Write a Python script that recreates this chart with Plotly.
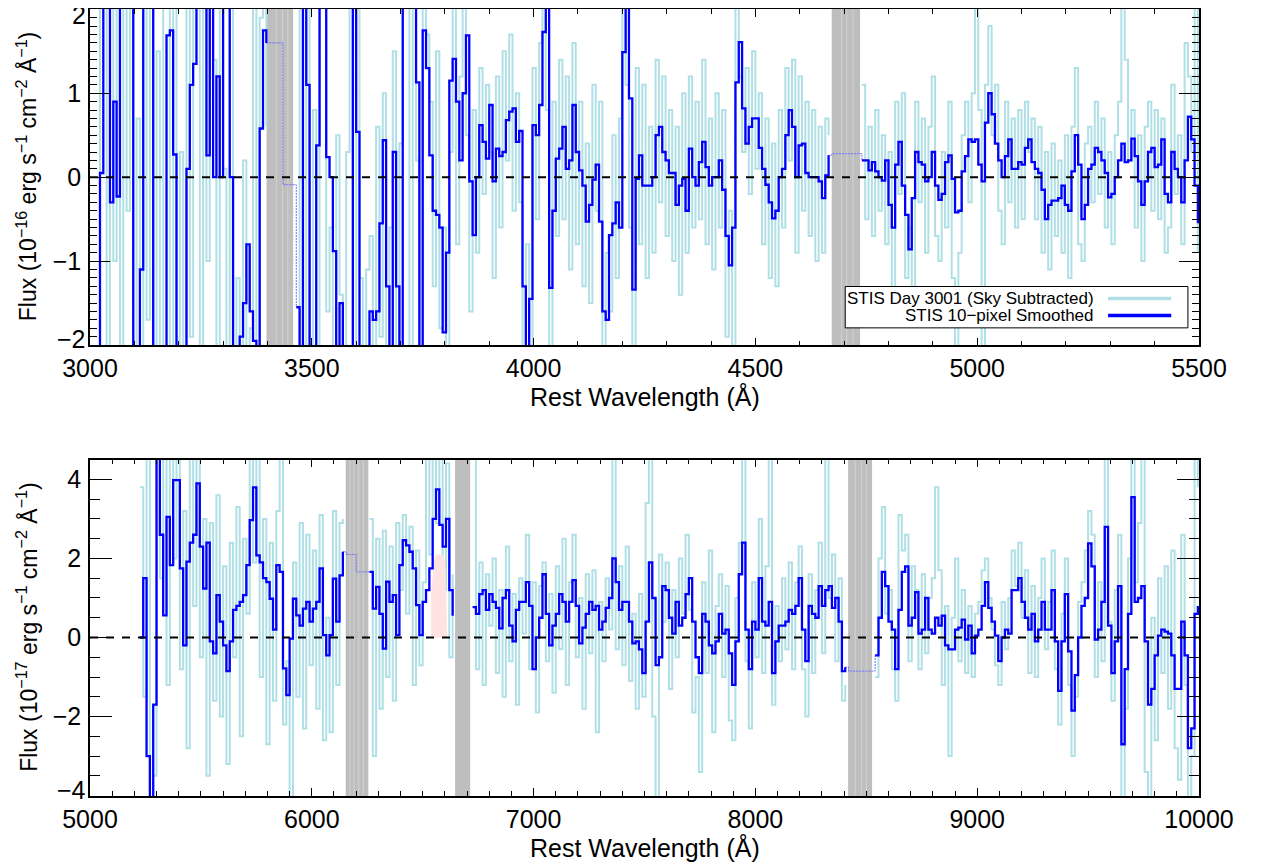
import numpy as np
import plotly.graph_objects as go

# ---------------- data ----------------
top_start, top_step = 3015.0, 7.5
top_smooth = [
    -3, 0.05, 3, 3, -0.3, 0.9, -0.23, 3, 3, 3,
    3, -3, -3, -1.1, 3, 3, 3, -3, -3, -3,
    -3, 1.69, 1.75, 0.27, -3, -3, -3, 0.1, 1.1, 1.35,
    3, 3, 3, 0.26, 3, 0.0, 1.2, 0.0, 3, 3,
    0.0, -3, -3, -1.9, -1.5, -0.8, -1.6, -1.95, -3, 0.58,
    1.75, 1.6, 1.6, 1.6, 1.6, 1.6, -0.09, -0.09, -0.09, -0.09,
    -1.55, -3, 3, 1.1, -3, -3, 0.38, 3, 3, 0.24,
    0.0, -0.88, -3, -1.5, -3, -3, -3, 3, 0.54, -3,
    -3, -3, -1.6, -1.7, -1.6, -0.55, 0.44, -1.3, -3, 0.3,
    -1.3, -3, 3, 3, 3, 3, 1.13, -3, 1.75, 1.3,
    0.26, -0.4, -0.45, -0.6, -1.85, -0.9, 1.15, 1.41, 0.9, 0.2,
    1.0, 1.69, -0.05, -0.69, 0.0, 0.62, 0.42, 0.22, 0.86, -0.05,
    0.34, 0.25, 0.3, 0.68, 0.78, 0.82, 0.42, 0.55, -1.3, -2.3,
    -1.45, 0.62, 0.5, 0.86, 1.73, 2.5, -1.32, -0.4, 0.22, 0.34,
    0.6, 0.1, 0.2, 0.86, 0.3, 0.08, -0.1, -0.53, -0.33, -0.03,
    0.15, -0.53, -1.6, -1.7, -0.69, -0.55, -0.3, -0.6, 1.49, 2.5,
    0.94, -1.34, -0.02, 0.26, -0.1, -0.1, -0.1, 0.0, 0.5, 0.6,
    0.3, 0.2, 0.05, 0.05, -0.33, -0.1, -0.02, -0.4, 0.34, 0.0,
    -0.1, 0.18, 0.42, 0.12, -0.1, 0.0, 0.0, 0.2, -0.15, -0.7,
    -1.05, -0.6, 1.13, 1.61, 0.82, 0.4, 0.6, 0.7, 0.7, 0.35,
    0.1, -0.09, -0.3, -0.49, -0.4, 0.0, 0.1, 0.5, 0.8, 0.6,
    0.0, 0.38, 0.4, 0.05, 0.0, 0.0, 0.0, -0.05, -0.25, 0.02,
    0.26, 0.28, 0.28, 0.28, 0.28, 0.28, 0.28, 0.28, 0.28, 0.28,
    0.2, 0.2, 0.08, 0.18, 0.07, 0.0, -0.04, 0.2, -0.33, -0.6,
    0.15, 0.42, -0.1, -0.45, -0.86, -0.25, 0.3, 0.18, 0.15, -0.05,
    0.0, 0.3, -0.1, -0.27, -0.2, 0.18, 0.26, -0.02, -0.42, -0.4,
    0.07, 0.25, 0.45, 0.42, 0.45, 0.15, -0.05, 0.65, 1.0, 0.75,
    0.4, 0.2, 0.0, 0.25, 0.45, 0.1, 0.1, 0.18, 0.15, 0.35,
    0.45, 0.18, 0.1, 0.05, -0.15, -0.5, -0.33, -0.28, -0.28, -0.25,
    -0.1, -0.33, -0.4, 0.07, 0.5, 0.15, -0.5, -0.33, 0.1, 0.15,
    0.35, 0.3, 0.2, 0.05, -0.24, -0.2, 0.0, 0.2, 0.4, 0.18,
    0.2, 0.46, 0.25, -0.05, -0.33, -0.05, 0.3, 0.35, 0.12, 0.15,
    0.45, -0.2, -0.3, 0.3, 0.1, 0.0, -0.3, 0.2, 0.72, 0.45,
    -0.1, -0.55,
]
N = None
top_raw = [
    -3, 3, 2.5, -3, 3, -1.0, 3, -3, 3, -0.4,
    3, -3, 0.7, -3, 3, -1.7, 3, -3, 1.5, -3,
    3, 2.2, -3, 3, -3, 0.3, -3, 3, -1.9, 3,
    3, -2.5, 3, -1.0, 3, 1.4, -3, 3, 0.1, -3,
    3, -3, -1.2, -3, 0.2, -3, -1.8, 3, -3, 1.9,
    3, 0.6, N, N, N, N, N, N, N, N,
    -3, 3, -3, 3, -2.0, 0.8, -3, 3, 2.2, -1.6,
    -0.6, -2.4, 0.5, -1.4, -3, 0.3, 3, -3, 3, -1.2,
    -2.5, -1.1, -0.7, -2.2, 0.6, -1.9, 1.0, -3, -0.6, 1.5,
    -2.3, 0.4, 3, 2.6, -3, 3, 0.2, -3, 3, 1.7,
    0.9, -1.3, 1.5, -1.8, -0.6, -2.4, 0.3, 2.4, -0.8, 1.2,
    2.4, 0.5, -1.6, 0.8, -0.9, 1.3, -0.2, 1.1, 0.3, -1.2,
    1.2, -0.6, 1.5, 0.2, 1.7, -0.4, 1.0, -0.3, -2.4, -0.8,
    -2.2, 1.3, -0.5, 1.6, 2.4, 0.8, -2.3, 0.9, -0.7, 1.4,
    -0.5, 1.2, -1.1, 1.6, -0.8, 0.9, -1.3, 0.4, -1.5, 1.1,
    -0.4, 0.9, -2.3, -0.9, -1.6, 0.5, -1.2, 0.7, 2.3, 1.1,
    -0.6, -2.3, 1.3, -0.8, 1.1, -1.2, 0.6, -0.9, 1.4, -0.3,
    1.2, -0.7, 0.8, -1.0, 0.6, -1.4, 1.0, -0.9, 1.2, -0.6,
    0.9, -0.5, 1.4, -0.8, 0.7, -1.1, 1.0, -0.6, 0.8, -1.9,
    -0.4, -2.3, 2.4, 1.2, 0.3, 1.3, -0.2, 1.5, 0.1, 1.0,
    -0.8, 0.7, -1.2, 0.4, -1.3, 0.8, -0.6, 1.3, 0.2, 1.4,
    -0.9, 1.2, -0.4, 0.9, -0.7, 0.8, -1.0, 0.6, -0.9, 0.7,
    0.5, N, N, N, N, N, N, N, N, N,
    1.1, -0.5, 0.6, -0.7, 0.8, -0.4, 0.5, -0.8, 0.3, -1.6,
    0.9, -0.2, 1.0, -1.2, -0.6, -1.5, 0.9, -0.3, 0.7, -0.9,
    0.6, 1.2, -0.7, -1.0, 0.3, -0.6, 0.9, -1.2, -2.2, -0.9,
    0.5, 0.9, -0.3, 1.0, 2.1, 0.8, -2.1, 1.1, 1.8, 0.5,
    1.1, -0.4, -0.8, 0.9, -0.3, 0.7, -0.6, 0.8, -0.5, 0.9,
    0.3, 0.7, -0.5, 0.6, -0.9, 0.3, -1.1, 0.4, -0.7, 0.2,
    -0.9, 0.5, -1.2, 0.6, 1.3, -0.8, -1.0, 0.4, 0.6, -0.3,
    0.9, -0.2, 0.7, -0.6, 0.3, -0.8, 0.5, 0.9, 2.1, 1.4,
    0.2, 0.8, -0.6, 0.5, -1.0, 0.6, 0.9, -0.4, 0.8, -0.5,
    0.7, -0.9, -0.6, 1.1, -0.2, 0.5, -0.8, 1.6, 1.2, 0.3,
    2.1, -0.9,
]

bot_start, bot_step = 5225.0, 15.0
bot_smooth = [
    0.0, 1.5, -3.0, -5, -1.7, 5, 2.6, 0.56, 3.05, 1.83,
    3.98, 3.98, 1.75, -0.2, 1.92, 2.4, 2.6, 3.9, 2.3, 1.24,
    2.4, -0.1, -0.4, 1.07, 0.4, -0.2, -0.85, -0.1, 0.7, 0.8,
    0.9, 1.07, 1.83, 2.97, 3.8, 2.08, 1.9, 1.5, 1.4, 0.98,
    0.2, 1.83, 1.66, -0.78, -1.46, -0.03, 0.98, 0.56, 0.3, 0.73,
    0.9, 0.4, 0.73, 0.9, 1.75, 0.06, -0.45, 0.06, 1.49, 0.4,
    1.57, 2.17, 2.1, 2.1, 2.1, 1.66, 1.66, 1.66, 1.66, 1.66,
    0.73, 1.28, 0.6, -0.28, 1.41, 0.9, 1.07, 0.06, 1.83, 2.46,
    2.33, 2.17, 1.75, 0.82, 0.06, 0.9, 1.2, 1.75, 3.0, 3.75,
    2.85, 2.3, 3.0, 1.2, 0.55, N, N, N, N, N,
    0.77, 0.6, 1.1, 1.2, 0.7, 1.1, 0.9, 0.75, 0.23, 1.0,
    1.2, 0.3, -0.1, 0.7, 0.9, 0.9, 1.4, 0.8, -0.8, 0.0,
    0.5, 1.6, 0.6, -0.2, 0.3, 0.6, 1.1, 0.9, 0.4, 0.9,
    1.45, 0.8, -0.15, 0.25, 0.6, 0.9, 0.7, 0.8, 0.2, 0.4,
    0.75, 1.0, 2.0, 1.4, 0.7, 0.9, 0.9, 0.4, -0.15, -0.1,
    -0.3, -0.9, 0.4, 1.9, 1.0, -0.7, -0.5, 1.3, 1.2, 0.5,
    0.1, 0.9, 0.3, 0.5, 1.1, 1.5, 0.4, -0.5, -0.9, 0.6,
    0.4, -0.2, -0.4, -0.1, 0.6, 0.1, 0.2, -0.4, -1.2, -0.1,
    1.6, 2.4, 0.2, -0.8, 0.4, 0.2, 1.5, 0.4, 0.3, 0.9,
    -0.9, -0.1, 0.3, 0.3, 0.4, 0.7, 0.6, 0.8, 1.5, 0.2,
    -0.6, 0.8, 0.6, 0.5, 1.3, 0.8, 1.2, 1.3, 0.75, 1.0,
    0.4, -0.85, -0.75, -0.85, -0.85, -0.85, -0.85, -0.85, -0.85, -0.85,
    -0.85, -0.45, 0.5, 1.66, 1.3, 0.4, 0.2, -0.8, 0.7, 1.66,
    1.8, 0.3, 0.5, 1.15, 0.1, 0.2, 1.0, 0.2, 0.1, 0.5,
    0.3, 0.55, -0.2, -0.3, -0.3, 0.2, 0.25, 0.45, -0.05, 0.3,
    -0.4, 0.05, 0.2, 0.8, 1.4, 0.75, 0.4, 0.05, -0.6, 0.0,
    0.2, 0.1, 1.2, 1.2, 1.5, 0.9, 0.5, 0.2, 0.6, -0.1,
    0.2, 0.9, 0.2, 0.2, 1.2, -0.1, -1.35, -0.1, 1.1, -0.35,
    -1.85, -0.95, 0.0, 0.8, 1.0, 2.38, 1.8, -0.05, 0.2, 0.9,
    2.8, 0.3, -0.9, -0.1, 1.3, -2.7, -0.8, 0.6, 3.55, 0.9,
    1.0, 1.3, -0.1, -1.7, -1.3, -0.45, 0.05, 0.2, 0.15, 0.1,
    -0.45, -1.3, -1.3, 0.4, -0.45, -2.8, -2.3, 0.6, 0.8,
]
bot_raw = [
    3.8, -1.5, 4.6, -5, -3.5, 5, 1.5, 4.6, -1.2, 4.6,
    2.0, 4.6, -0.8, 3.2, -2.8, 4.6, 0.8, 4.6, -0.5, 3.0,
    -3.5, 2.9, -1.6, 3.6, -2.0, 1.8, -3.2, 2.4, -0.5, 3.3,
    -2.5, 2.5, 0.6, 4.6, 1.9, 4.6, -1.0, 3.0, -2.7, 2.4,
    -1.6, 3.2, 4.6, -2.2, -0.6, -4.5, 1.9, -1.5, 2.9, -2.3,
    2.6, -0.7, 2.2, -1.8, 3.1, -2.6, 0.5, -2.4, 3.2, -1.2,
    2.9, 3.0, N, N, N, N, N, N, N, 3.0,
    -3.0, 2.5, -1.8, 2.7, -1.0, 2.3, -1.6, 2.9, 1.2, 3.1,
    0.6, 2.8, -1.2, 2.2, -0.7, 1.4, 4.6, 2.1, 4.6, 2.9,
    4.6, 1.2, 4.4, -0.5, 1.6, N, N, N, N, N,
    4.6, -0.8, 1.9, -1.2, 1.6, 0.3, 2.0, -0.9, 1.2, -1.5,
    2.3, -0.6, 1.1, -1.7, 1.5, 0.1, 2.6, -0.8, 1.4, -1.9,
    1.3, 1.9, -0.6, 1.1, -1.4, 1.8, -0.3, 2.5, -1.2, 1.4,
    2.6, -0.5, 1.0, -1.8, 1.6, -0.4, 1.7, -2.4, 0.9, -0.6,
    1.5, 0.2, 4.6, -0.3, 1.8, -0.7, 2.3, -1.1, 0.6, -1.8,
    1.1, -1.5, 3.4, 4.6, -2.0, -4.3, 2.1, 0.4, 1.9, -1.3,
    1.2, -0.5, 2.0, 0.6, 2.6, 0.7, -1.9, -1.0, -3.4, 1.4,
    -0.9, 2.2, -2.4, 0.8, 1.6, -1.0, 1.3, -2.1, -2.6, 1.0,
    2.4, 4.6, -0.6, -2.3, 1.4, -0.5, 3.0, -0.9, 1.8, 4.6,
    -1.7, 0.8, -0.6, 1.5, -0.3, 1.9, -0.8, 1.4, 2.3, -0.8,
    -2.0, 1.6, -0.9, 1.2, 2.4, -0.4, 4.6, 1.0, 2.1, -0.6,
    1.5, -1.6, -1.2, N, N, N, N, N, N, N,
    N, -1.0, 2.0, 3.3, 0.6, 1.2, -0.8, -1.6, 3.1, 2.2,
    2.6, -0.6, 1.8, 1.2, -0.8, 1.6, -0.4, 1.0, 1.5, 3.8,
    1.7, -1.2, 0.8, -3.0, 0.5, 2.0, -0.6, 1.2, -0.9, 0.8,
    -1.0, 0.6, 0.9, 1.7, 2.0, 1.0, 0.2, -0.7, -1.2, 0.9,
    -0.3, 1.0, 2.2, 1.3, 2.4, 0.5, 1.7, -0.9, 1.3, -1.0,
    1.0, 2.0, -0.3, 0.9, 2.2, -0.8, -2.2, 0.6, 2.0, -1.2,
    -3.0, -1.5, 0.9, 1.4, 2.2, 3.2, 2.6, -1.0, 1.4, -0.6,
    4.6, 0.4, -1.6, 1.2, 2.6, -4.3, -1.8, 2.0, 4.6, 1.4,
    2.9, 4.6, -3.4, -4.3, 0.5, -2.6, 1.5, -0.9, 1.8, -1.8,
    2.2, -2.8, -3.6, 2.6, -1.2, -4.3, -3.0, 4.6, 3.8,
]

# masked (telluric / chip-gap) regions, Angstrom
mask_top = [(3398, 3458), (4672, 4736)]
mask_bot = [(6153, 6255), (6646, 6714), (8418, 8526)]
seams_top = [3420, 3434, 3446, 4694, 4706, 4720]
seams_bot = [6172, 6190, 6212, 6232, 8450, 8478, 8500]

# H-alpha shaded region
halpha_wl = [6538, 6538, 6548, 6558, 6575, 6590, 6602, 6610]
halpha_flux = [0, 1.1, 1.8, 2.1, 2.1, 2.1, 1.9, 0]

# axis tick values / labels (end labels are drawn nudged inward, as in the reference)
top_yticks = [-2, -1, 0, 1, 2]
top_ylabels = ["\u22122", "\u22121", "0", "1", "2"]
bot_yticks = [-4, -2, 0, 2, 4]
bot_ylabels = ["\u22124", "\u22122", "0", "2", "4"]

legend_labels = ["STIS Day 3001 (Sky Subtracted)", "STIS 10\u2212pixel Smoothed"]
xtitle = "Rest Wavelength (\u00c5)"
ytitle_top = "Flux (10<sup>\u221216</sup> erg s<sup>\u22121</sup> cm<sup>\u22122</sup> \u00c5<sup>\u22121</sup>)"
ytitle_bot = "Flux (10<sup>\u221217</sup> erg s<sup>\u22121</sup> cm<sup>\u22122</sup> \u00c5<sup>\u22121</sup>)"

# ---------------- styling ----------------
RAW_COL = "rgb(176,224,230)"
SM_COL = "rgb(0,0,255)"
BAND_COL = "rgb(190,190,190)"
SEAM_COL = "rgb(210,210,210)"
FONT = "Liberation Sans, Arial, Helvetica, sans-serif"


def grid(start, step, n):
    return [start + step * i for i in range(n)]


def split_bands(wl, vals, bands):
    inside = [any(lo <= x <= hi for lo, hi in bands) for x in wl]
    main = [None if ib else v for ib, v in zip(inside, vals)]
    thin = [v if ib else None for ib, v in zip(inside, vals)]
    thin2 = list(thin)
    for i in range(len(thin)):
        if thin[i] is None:
            if (i > 0 and inside[i - 1] and thin[i - 1] is not None) or \
               (i + 1 < len(thin) and inside[i + 1] and thin[i + 1] is not None):
                thin2[i] = vals[i]
    return main, thin2


top_wl = grid(top_start, top_step, len(top_smooth))
top_wl_raw = grid(top_start, top_step, len(top_raw))
bot_wl = grid(bot_start, bot_step, len(bot_smooth))
bot_wl_raw = grid(bot_start, bot_step, len(bot_raw))

top_main, top_thin = split_bands(top_wl, top_smooth, mask_top)
bot_main, bot_thin = split_bands(bot_wl, bot_smooth, mask_bot)

fig = go.Figure()

# top panel
fig.add_trace(go.Scatter(x=top_wl_raw, y=top_raw, mode="lines", line=dict(color=RAW_COL, width=2, shape="hv"),
                         connectgaps=False, xaxis="x", yaxis="y", hoverinfo="skip"))
fig.add_trace(go.Scatter(x=top_wl, y=top_thin, mode="lines", line=dict(color="rgb(110,110,255)", width=1, shape="hv", dash="2px,1px"),
                         connectgaps=False, xaxis="x", yaxis="y", hoverinfo="skip"))
fig.add_trace(go.Scatter(x=top_wl, y=top_main, mode="lines", line=dict(color=SM_COL, width=2.3, shape="hv"),
                         connectgaps=False, xaxis="x", yaxis="y"))

# bottom panel
fig.add_trace(go.Scatter(x=bot_wl_raw, y=bot_raw, mode="lines", line=dict(color=RAW_COL, width=2, shape="hv"),
                         connectgaps=False, xaxis="x2", yaxis="y2", hoverinfo="skip"))
fig.add_trace(go.Scatter(x=halpha_wl, y=halpha_flux, mode="lines", fill="toself", fillcolor="rgb(255,226,226)",
                         line=dict(width=0, color="rgba(0,0,0,0)"), xaxis="x2", yaxis="y2", hoverinfo="skip"))
fig.add_trace(go.Scatter(x=bot_wl, y=bot_thin, mode="lines", line=dict(color="rgb(110,110,255)", width=1, shape="hv", dash="2px,1px"),
                         connectgaps=False, xaxis="x2", yaxis="y2", hoverinfo="skip"))
fig.add_trace(go.Scatter(x=bot_wl, y=bot_main, mode="lines", line=dict(color=SM_COL, width=2.3, shape="hv"),
                         connectgaps=False, xaxis="x2", yaxis="y2"))

shapes = []
for (lo, hi) in mask_top:
    shapes.append(dict(type="rect", xref="x", yref="y domain", x0=lo, x1=hi, y0=0, y1=1,
                       fillcolor=BAND_COL, line=dict(width=0), layer="below"))
for s in seams_top:
    shapes.append(dict(type="line", xref="x", yref="y domain", x0=s, x1=s, y0=0, y1=1,
                       line=dict(color=SEAM_COL, width=1), layer="below"))
for (lo, hi) in mask_bot:
    shapes.append(dict(type="rect", xref="x2", yref="y2 domain", x0=lo, x1=hi, y0=0, y1=1,
                       fillcolor=BAND_COL, line=dict(width=0), layer="below"))
for s in seams_bot:
    shapes.append(dict(type="line", xref="x2", yref="y2 domain", x0=s, x1=s, y0=0, y1=1,
                       line=dict(color=SEAM_COL, width=1), layer="below"))

# zero lines
shapes.append(dict(type="line", xref="x domain", yref="y", x0=0, x1=1, y0=0, y1=0,
                   line=dict(color="black", width=2, dash="8px,8px"), layer="above"))
shapes.append(dict(type="line", xref="x2 domain", yref="y2", x0=0, x1=1, y0=0, y1=0,
                   line=dict(color="black", width=2, dash="8px,8px"), layer="above"))

# legend box (top panel)
shapes.append(dict(type="rect", xref="x domain", yref="y domain", x0=0.681, x1=0.990, y0=0.052, y1=0.175,
                   fillcolor="white", line=dict(color="black", width=1), layer="above"))
shapes.append(dict(type="line", xref="x domain", yref="y domain", x0=0.918, x1=0.975, y0=0.139, y1=0.139,
                   line=dict(color=RAW_COL, width=3.5), layer="above"))
shapes.append(dict(type="line", xref="x domain", yref="y domain", x0=0.918, x1=0.975, y0=0.089, y1=0.089,
                   line=dict(color=SM_COL, width=3.5), layer="above"))

LEG_FONT = dict(size=17, color="black", family=FONT)
TITLE_FONT = dict(size=25, color="black", family=FONT)
YT_FONT = dict(size=23, color="black", family=FONT)
tickfont = dict(size=25, color="black", family=FONT)

annotations = [
    dict(text=legend_labels[0], xref="x domain", yref="y domain", x=0.907, y=0.139, xanchor="right",
         yanchor="middle", showarrow=False, font=LEG_FONT),
    dict(text=legend_labels[1], xref="x domain", yref="y domain", x=0.907, y=0.089, xanchor="right",
         yanchor="middle", showarrow=False, font=LEG_FONT),
    dict(text=xtitle, xref="x domain", yref="y domain", x=0.5, y=-0.152, xanchor="center",
         yanchor="middle", showarrow=False, font=TITLE_FONT),
    dict(text=xtitle, xref="x2 domain", yref="y2 domain", x=0.5, y=-0.152, xanchor="center",
         yanchor="middle", showarrow=False, font=TITLE_FONT),
    dict(text=ytitle_top, xref="x domain", yref="y domain", x=-0.0568, y=0.5, xanchor="center",
         yanchor="middle", showarrow=False, textangle=-90, font=YT_FONT),
    dict(text=ytitle_bot, xref="x2 domain", yref="y2 domain", x=-0.0568, y=0.5, xanchor="center",
         yanchor="middle", showarrow=False, textangle=-90, font=YT_FONT),
]


def end_label(xref, yref, yval, text, shift):
    return dict(text=text, xref=xref, yref=yref, x=0, y=yval, xanchor="right", yanchor="middle",
                xshift=-3, yshift=shift, showarrow=False, font=tickfont, borderpad=0)


# top-panel end labels nudged inward; bottom-panel "-4" nudged up
annotations.append(end_label("x domain", "y", top_yticks[-1], top_ylabels[-1], -6))
annotations.append(end_label("x domain", "y", top_yticks[0], top_ylabels[0], 6))
annotations.append(end_label("x2 domain", "y2", bot_yticks[0], bot_ylabels[0], 6))

top_ytext = [""] + top_ylabels[1:-1] + [""]
bot_ytext = [""] + bot_ylabels[1:]


def xax(rng, dtick, minor, anchor, domain):
    return dict(range=rng, dtick=dtick, tick0=rng[0], tickformat="d", ticks="inside", ticklen=8, tickwidth=1,
                tickcolor="black", ticklabelstandoff=0,
                minor=dict(dtick=minor, ticks="inside", ticklen=5, tickwidth=1, tickcolor="black"),
                mirror="allticks", showline=True, linecolor="black", linewidth=1.5, showgrid=False,
                zeroline=False, tickfont=tickfont, anchor=anchor, domain=domain, automargin=False)


def yax(rng, minor, anchor, domain, mlen, nlen, tickvals, ticktext):
    return dict(range=rng, ticks="inside", ticklen=mlen, tickwidth=1, tickcolor="black",
                ticklabelstandoff=2, tickmode="array", tickvals=tickvals, ticktext=ticktext,
                minor=dict(dtick=minor, tick0=0, ticks="inside", ticklen=nlen, tickwidth=1, tickcolor="black"),
                mirror="allticks", showline=True, linecolor="black", linewidth=1.5, showgrid=False,
                zeroline=False, tickfont=tickfont, anchor=anchor, domain=domain, automargin=False)


# the page adds an 8 px body margin, so the figure is sized to fit inside the window
fig.update_layout(
    width=1253, height=854,
    margin=dict(l=82, r=62, t=1, b=66),
    paper_bgcolor="white", plot_bgcolor="white",
    showlegend=False,
    font=dict(family=FONT, color="black"),
    xaxis=xax([3000, 5500], 500, 100, "y", [0, 1]),
    yaxis=yax([-2.004, 2.004], 0.1, "x", [0.5726, 1.0], 20, 7, top_yticks, top_ytext),
    xaxis2=xax([5000, 10000], 1000, 100, "y2", [0, 1]),
    yaxis2=yax([-4.01, 4.5], 0.5, "x2", [0.0, 0.4274], 22, 10, bot_yticks, bot_ytext),
    shapes=shapes,
    annotations=annotations,
)

fig.write_html("out.html")
